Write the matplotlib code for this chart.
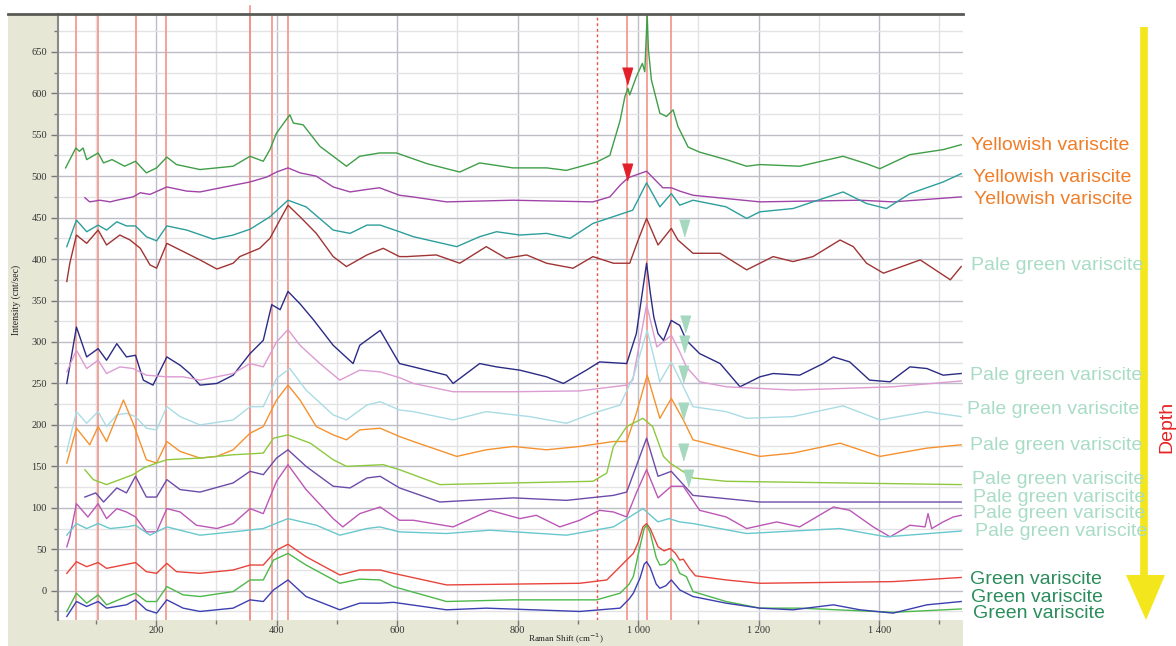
"""
Espectros Raman de variscita apilados (amarillenta, verde pálido, verde)
con líneas de referencia y flecha de profundidad.
"""
import matplotlib
matplotlib.use("Agg")
import matplotlib.pyplot as plt
from matplotlib.patches import Rectangle, Polygon
from matplotlib.lines import Line2D
from matplotlib.ticker import MultipleLocator

# --- datos (Raman shift cm-1, intensidad cnt/sec) ---
yellow1_x = [50, 67, 73, 79, 85, 104, 113, 127, 148, 166, 184, 201, 218, 234, 273, 328, 356, 378, 389, 400,
             422, 428, 444, 472, 494, 516, 538, 571, 599, 650, 704, 737, 792, 848, 881, 931, 953, 970, 978, 983,
             986, 997, 1007, 1011, 1015, 1017, 1022, 1036, 1047, 1058, 1066, 1083, 1102, 1146, 1180, 1202, 1268,
             1340, 1379, 1401, 1451, 1506, 1536]
yellow1_y = [510, 534, 530, 534, 520, 528, 516, 520, 512, 518, 504, 510, 523, 514, 508, 512, 524, 518, 532, 552,
             574, 564, 562, 536, 524, 512, 524, 528, 528, 515, 505, 516, 510, 510, 507, 517, 525, 567, 596, 606,
             598, 620, 636, 626, 695, 653, 616, 576, 572, 580, 560, 535, 529, 520, 512, 514, 512,
             524, 515, 509, 526, 532, 538]

yellow2_x = [82, 90, 107, 124, 135, 162, 174, 190, 218, 251, 273, 328, 356, 384, 400, 419, 439, 466, 494, 522,
             550, 571, 604, 626, 682, 792, 925, 953, 970, 983, 1014, 1041, 1055, 1069, 1091, 1202, 1368, 1423, 1536]
yellow2_y = [474, 469, 471, 469, 471, 475, 480, 478, 487, 482, 481, 489, 493, 499, 505, 510, 504, 500, 487, 481,
             484, 486, 477, 475, 469, 471, 469, 475, 489, 498, 506, 486, 486, 482, 477, 469, 471, 469, 475]

yellow3_x = [52, 68, 85, 104, 118, 135, 151, 166, 184, 201, 218, 251, 295, 328, 356, 389, 419, 449, 494, 522,
             550, 572, 604, 627, 699, 737, 765, 804, 848, 887, 925, 958, 991, 1014, 1036, 1055, 1069, 1091, 1146,
             1180, 1202, 1257, 1290, 1340, 1379, 1412, 1451, 1506, 1536]
yellow3_y = [415, 447, 433, 441, 435, 445, 440, 440, 427, 422, 440, 435, 424, 429, 436, 451, 471, 463, 435, 431,
             441, 441, 433, 427, 415, 427, 433, 429, 431, 425, 443, 451, 459, 492, 463, 479, 465, 471, 463,
             449, 457, 461, 469, 481, 467, 461, 479, 493, 503]

pale1_x = [52, 57, 68, 85, 104, 118, 140, 157, 174, 190, 201, 218, 240, 273, 301, 328, 339, 372, 389, 419,
           439, 466, 494, 516, 550, 577, 604, 616, 665, 704, 748, 781, 815, 848, 892, 925, 959, 986, 1000, 1014,
           1033, 1055, 1066, 1091, 1136, 1180, 1224, 1257, 1290, 1335, 1357, 1379, 1407, 1468, 1518, 1536]
pale1_y = [373, 395, 429, 419, 435, 417, 429, 423, 413, 393, 389, 419, 411, 399, 388, 395, 403, 413, 425, 465,
           451, 431, 403, 391, 405, 413, 403, 403, 405, 395, 415, 401, 405, 395, 389, 403, 395, 395, 423, 449,
           417, 437, 423, 407, 407, 387, 403, 397, 403, 423, 415, 395, 383, 399, 375, 391]

pale2_x = [52, 68, 85, 104, 118, 135, 151, 166, 179, 195, 218, 240, 256, 273, 301, 328, 356, 378, 392, 406,
           419, 439, 461, 494, 527, 538, 572, 588, 604, 627, 682, 693, 737, 765, 804, 848, 876, 914, 936, 981,
           997, 1005, 1014, 1020, 1026, 1033, 1042, 1055, 1069, 1080, 1102, 1136, 1169, 1202, 1224, 1268, 1307,
           1324, 1351, 1384, 1418, 1451, 1479, 1506, 1536]
pale2_y = [250, 318, 282, 292, 278, 298, 282, 284, 254, 248, 282, 272, 262, 248, 250, 260, 286, 302, 345, 339,
           361, 346, 327, 296, 274, 296, 314, 294, 274, 270, 260, 250, 274, 270, 266, 258, 250, 266, 276, 274,
           310, 350, 395, 360, 330, 310, 302, 326, 320, 302, 286, 274, 246, 258, 262, 260, 274,
           282, 276, 254, 252, 270, 268, 260, 262]

pale3_x = [52, 68, 85, 104, 118, 140, 162, 184, 218, 245, 273, 328, 356, 378, 400, 419, 439, 472, 505, 538,
           572, 604, 627, 693, 793, 903, 981, 991, 1014, 1031, 1055, 1069, 1080, 1102, 1146, 1257, 1423, 1536]
pale3_y = [264, 290, 268, 278, 262, 270, 268, 260, 258, 258, 254, 262, 274, 270, 300, 315, 296, 274, 254, 266,
           264, 257, 250, 240, 240, 241, 248, 254, 345, 294, 308, 288, 270, 252, 246, 242, 246, 253]

pale4_x = [52, 68, 85, 104, 118, 135, 151, 166, 184, 201, 218, 240, 273, 328, 356, 378, 400, 422, 449, 494,
           516, 550, 572, 604, 627, 693, 748, 820, 881, 925, 970, 992, 1015, 1036, 1055, 1075, 1091, 1146, 1180,
           1257, 1340, 1401, 1479, 1536]
pale4_y = [168, 216, 202, 216, 198, 212, 214, 210, 196, 194, 222, 210, 200, 206, 222, 222, 256, 268, 242, 212,
           206, 224, 228, 218, 216, 206, 216, 210, 202, 214, 224, 258, 314, 252, 276, 246, 222, 216, 208,
           210, 223, 206, 216, 210]

pale5_x = [52, 68, 90, 104, 118, 146, 162, 184, 201, 218, 240, 273, 301, 328, 356, 378, 400, 419, 439, 466,
           494, 516, 538, 572, 604, 627, 699, 748, 793, 848, 903, 959, 981, 997, 1015, 1036, 1055, 1075, 1091,
           1146, 1202, 1257, 1335, 1401, 1479, 1536]
pale5_y = [154, 196, 176, 198, 180, 230, 202, 158, 154, 180, 168, 160, 162, 170, 190, 198, 230, 248, 230, 198,
           188, 182, 194, 196, 186, 180, 162, 170, 174, 170, 174, 180, 180, 214, 260, 208, 232, 206, 182,
           172, 162, 166, 178, 162, 172, 176]

pale6_x = [82, 96, 118, 140, 162, 179, 201, 218, 273, 328, 378, 395, 419, 456, 494, 516, 577, 604, 671, 793,
           925, 948, 959, 981, 1008, 1024, 1042, 1053, 1091, 1146, 1536]
pale6_y = [146, 134, 128, 134, 140, 148, 154, 158, 160, 164, 166, 184, 188, 178, 158, 150, 152, 146, 128, 130,
           132, 142, 174, 198, 208, 198, 162, 154, 136, 132, 128]

pale7_x = [82, 100, 113, 135, 151, 166, 184, 201, 218, 240, 273, 328, 356, 378, 400, 419, 449, 494, 522, 550,
           572, 604, 671, 793, 881, 959, 981, 1014, 1033, 1055, 1091, 1202, 1536]
pale7_y = [113, 118, 107, 124, 118, 138, 113, 113, 134, 122, 119, 130, 144, 140, 160, 170, 150, 126, 124, 136,
           138, 124, 107, 112, 109, 115, 119, 184, 138, 144, 115, 107, 107]

pale8_x = [52, 57, 68, 87, 104, 118, 135, 151, 166, 184, 201, 218, 240, 267, 301, 328, 356, 378, 400, 419,
           449, 494, 510, 538, 572, 604, 627, 693, 754, 804, 831, 870, 903, 936, 959, 981, 997, 1014, 1033, 1055,
           1075, 1102, 1146, 1180, 1230, 1268, 1324, 1351, 1390, 1418, 1451, 1476, 1481, 1487, 1506, 1523, 1536]
pale8_y = [53, 65, 105, 89, 105, 87, 99, 95, 89, 71, 71, 99, 95, 79, 75, 81, 99, 93, 132, 152,
           122, 87, 77, 93, 101, 85, 85, 77, 97, 87, 91, 77, 85, 97, 95, 89, 118, 146, 112, 126,
           126, 97, 89, 75, 83, 77, 101, 97, 77, 65, 79, 77, 93, 75, 83, 89, 91]

pale9_x = [52, 68, 85, 104, 124, 151, 166, 190, 218, 273, 328, 378, 419, 466, 505, 550, 571, 604, 682, 754,
           881, 959, 1008, 1033, 1051, 1069, 1091, 1180, 1335, 1412, 1536]
pale9_y = [67, 81, 75, 81, 75, 77, 79, 67, 77, 67, 71, 75, 87, 79, 67, 75, 77, 71, 69, 73,
           67, 77, 99, 83, 87, 83, 81, 69, 75, 65, 72]

green1_x = [52, 68, 85, 104, 118, 166, 184, 201, 218, 234, 273, 328, 356, 378, 400, 419, 449, 505, 538, 572,
            594, 682, 903, 948, 970, 985, 992, 1000, 1008, 1014, 1020, 1033, 1043, 1053, 1062, 1069, 1075, 1085,
            1095, 1146, 1202, 1423, 1536]
green1_y = [21, 35, 29, 34, 27, 34, 23, 21, 33, 23, 21, 25, 31, 31, 49, 56, 41, 19, 25, 25,
            21, 7, 9, 13, 29, 40, 45, 58, 77, 81, 75, 53, 48, 51, 45, 37, 38, 27,
            18, 13, 9, 11, 16]

green2_x = [52, 68, 85, 104, 118, 151, 166, 184, 201, 218, 245, 273, 328, 356, 378, 395, 419, 449, 505, 538,
            572, 594, 682, 793, 931, 970, 985, 992, 1002, 1010, 1014, 1020, 1030, 1036, 1045, 1055, 1062, 1069,
            1080, 1091, 1146, 1202, 1268, 1423, 1536]
green2_y = [-25, -3, -15, -5, -17, -7, -3, -13, -13, 5, -5, -7, -1, 13, 13, 37, 45, 31, 9, 14,
            13, 5, -13, -11, -11, -3, 8, 17, 50, 75, 79, 70, 40, 31, 32, 39, 33, 21,
            17, -1, -13, -21, -21, -26, -22]

green3_x = [52, 68, 85, 104, 118, 151, 166, 184, 201, 218, 245, 273, 328, 356, 378, 395, 419, 449, 505, 538,
            572, 594, 682, 748, 903, 970, 985, 992, 1003, 1010, 1014, 1020, 1030, 1036, 1046, 1055, 1062, 1069,
            1091, 1146, 1202, 1257, 1324, 1368, 1423, 1479, 1536]
green3_y = [-31, -13, -19, -13, -21, -17, -11, -23, -27, -11, -21, -25, -21, -11, -13, 1, 13, -7, -23, -15,
            -15, -14, -23, -21, -25, -21, -10, -3, 15, 32, 35, 28, 8, 3, 6, 13, 7, 1,
            -7, -15, -21, -23, -17, -23, -27, -17, -13]

series_colors = ['#3f9e47', '#a044a8', '#2c9e9c', '#a03434',
                 '#2b2b86', '#dc9bd2', '#a9dce4', '#f5922f', '#8dc83e', '#6c4ba9', '#bb57b6', '#68c8cd',
                 '#e8443b', '#4db84a', '#3c3fb0']

# lineas de referencia (cm-1)
ref_lines = [67, 104, 166, 216, 356, 392, 419, 982, 1014, 1054]
ref_dotted = 931

# marcadores triangulares
red_tri_x = [982, 982]
red_tri_y = [621, 505]
pale_tri_x = [1076, 1077, 1076, 1074, 1075, 1075, 1083]
pale_tri_y = [437, 322, 297, 262, 217, 167, 136]

# etiquetas a la derecha (texto, posicion en pixeles, tipo)
labels = ["Yellowish variscite"] * 3 + ["Pale green variscite"] * 8 + ["Green variscite"] * 3
label_px = [(971, 145), (973, 177), (974, 199), (971, 266), (970, 376), (967, 410), (970, 445),
            (972, 480), (973, 497), (973, 513), (975, 531), (970, 579), (971, 598), (973, 613)]
label_colors = ['#f07d28'] * 3 + ['#a9dcc6'] * 8 + ['#2a8d5b'] * 3

W, H = 1176, 646
fig = plt.figure(figsize=(W / 100, H / 100), dpi=100)
fig.patch.set_facecolor('white')

def fx(px):
    return px / W

def fy(py):
    return 1 - py / H

# panel beige del programa
fig.patches.append(Rectangle((fx(8), 0), fx(963) - fx(8), fy(14), transform=fig.transFigure,
                             facecolor='#e7e7d6', edgecolor='none', zorder=-10))
fig.lines.append(Line2D([fx(8), fx(963)], [fy(14), fy(14)], transform=fig.transFigure,
                        color='#5a5a55', lw=2))

ax = fig.add_axes([fx(58), fy(620), fx(963) - fx(58), fy(14) - fy(620)])
ax.set_facecolor('white')
ax.set_xlim(37.4, 1539)
ax.set_ylim(-35.3, 695.6)

ax.xaxis.set_major_locator(MultipleLocator(200))
ax.xaxis.set_minor_locator(MultipleLocator(100))
ax.yaxis.set_major_locator(MultipleLocator(50))
ax.yaxis.set_minor_locator(MultipleLocator(25))
ax.grid(which='major', color='#bdbdc8', lw=1.0)
ax.grid(which='minor', color='#e3e3e6', lw=1.0)
ax.set_axisbelow(True)

for s in ['top', 'right', 'bottom']:
    ax.spines[s].set_visible(False)
ax.spines['left'].set_color('#8a8a8a')
ax.spines['left'].set_linewidth(1.5)

ax.set_xticks([200, 400, 600, 800, 1000, 1200, 1400],
              ["200", "400", "600", "800", "1 000", "1 200", "1 400"])
ax.set_yticks(range(0, 651, 50))
for lab in ax.get_xticklabels() + ax.get_yticklabels():
    lab.set_fontfamily('Liberation Serif')
    lab.set_fontsize(7.5)
    lab.set_color('#333333')
ax.tick_params(which='major', length=5, color='#777777', width=1, pad=3)
ax.tick_params(axis='x', which='major', length=4, pad=0.5)
ax.tick_params(which='minor', length=3, color='#777777', width=1)

# lineas rojas de referencia
for xv in ref_lines:
    ax.axvline(xv, color='#f29488', lw=1.2, zorder=1)
ax.axvline(356, ymax=1.013, color='#f29488', lw=1.2, zorder=1, clip_on=False)
ax.axvline(ref_dotted, color='#e8524a', lw=1.0, ls=(0, (2, 2)), zorder=1)

all_x = [yellow1_x, yellow2_x, yellow3_x, pale1_x, pale2_x, pale3_x, pale4_x, pale5_x, pale6_x,
         pale7_x, pale8_x, pale9_x, green1_x, green2_x, green3_x]
all_y = [yellow1_y, yellow2_y, yellow3_y, pale1_y, pale2_y, pale3_y, pale4_y, pale5_y, pale6_y,
         pale7_y, pale8_y, pale9_y, green1_y, green2_y, green3_y]
for xs, ys, c in zip(all_x, all_y, series_colors):
    ax.plot(xs, ys, color=c, lw=1.0, zorder=3)

tri = [(-0.6, 1), (0.6, 1), (0, -1)]
ax.plot(red_tri_x, red_tri_y, ls='none', marker=tri, ms=12, color='#e3202a', zorder=5)
ax.plot(pale_tri_x, pale_tri_y, ls='none', marker=tri, ms=12, color='#a6d8c0', zorder=5)

fig.text(fx(16), fy(300), "Intensity (cnt/sec)", rotation=90, ha='center', va='center',
         family='Liberation Serif', size=7, color='#222222')
fig.text(fx(566), fy(646), "Raman Shift (cm$^{-1}$)", ha='center', va='bottom',
         family='Liberation Serif', size=6.5, color='#222222')

for txt, (px, py), c in zip(labels, label_px, label_colors):
    fig.text(fx(px), fy(py), txt, ha='left', va='center', family='Liberation Sans',
             size=14, color=c)

# flecha de profundidad
fig.lines.append(Line2D([fx(1144), fx(1144)], [fy(27), fy(580)], transform=fig.transFigure,
                        color='#f4e61c', lw=5.5, solid_capstyle='butt'))
fig.patches.append(Polygon([(fx(1126), fy(575)), (fx(1165), fy(575)), (fx(1146), fy(620))],
                           closed=True, transform=fig.transFigure, facecolor='#f4e61c',
                           edgecolor='none'))
fig.text(fx(1167), fy(427), "Depth", rotation=90, ha='center', va='center',
         family='Liberation Sans', size=14, color='#e52421')

fig.savefig("out.png", dpi=100)
